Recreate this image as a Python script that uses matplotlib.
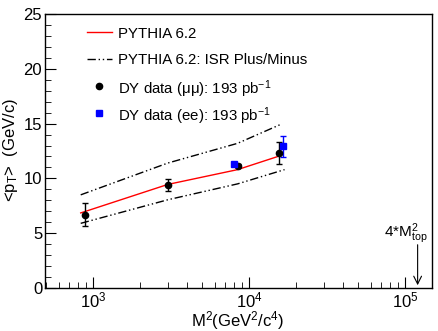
import matplotlib
matplotlib.use("Agg")
import matplotlib.pyplot as plt
from matplotlib.ticker import LogLocator, MultipleLocator, NullFormatter

plt.rcParams['font.family'] = ['Liberation Sans', 'DejaVu Sans']
plt.rcParams['mathtext.fontset'] = 'custom'
plt.rcParams['mathtext.rm'] = 'Liberation Sans'
plt.rcParams['mathtext.it'] = 'Liberation Sans'

# PYTHIA 6.2 curves
pyth_m2 = [830, 3000, 8400, 16000]
pyth_pt = [6.85, 9.45, 10.8, 12.1]
isr_plus_m2 = [830, 3000, 8400, 16000]
isr_plus_pt = [8.5, 11.4, 13.2, 14.95]
isr_minus_m2 = [830, 3000, 8400, 16800]
isr_minus_pt = [5.9, 8.05, 9.5, 10.8]

# DY data
mumu_m2 = [885, 3000, 8400, 15400]
mumu_pt = [6.7, 9.4, 11.15, 12.35]
mumu_err = [1.05, 0.58, 0.15, 1.0]
ee_m2 = [8000, 16400]
ee_pt = [11.27, 12.92]
ee_err = [0.12, 0.97]

mtop = 173.0

legend_labels = ["PYTHIA 6.2", "PYTHIA 6.2: ISR Plus/Minus",
                 r"DY data ($\mu\mu$): 193 pb$^{-1}$", "DY data (ee): 193 pb$^{-1}$"]

fig = plt.figure(figsize=(4.39, 3.31), dpi=100)
ax = fig.add_axes([45/439, 1 - 288/331, 387/439, 274/331])

dash = [6, 2, 1, 2, 1, 2]
ax.plot(pyth_m2, pyth_pt, color="red", lw=1.0)
ax.plot(isr_plus_m2, isr_plus_pt, color="black", lw=1.0, dashes=dash)
ax.plot(isr_minus_m2, isr_minus_pt, color="black", lw=1.0, dashes=dash)
ax.errorbar(mumu_m2, mumu_pt, yerr=mumu_err, fmt="o", color="black", ms=4.5,
            capsize=2, elinewidth=1)
ax.errorbar(ee_m2, ee_pt, yerr=ee_err, fmt="s", color="#0000ff", ms=4.5,
            capsize=2, elinewidth=1)

ax.set_xscale("log")
ax.set_xlim(490, 148000)
ax.set_ylim(0, 25)

ax.yaxis.set_major_locator(MultipleLocator(5))
ax.yaxis.set_minor_locator(MultipleLocator(1))
ax.xaxis.set_major_locator(LogLocator(base=10))
ax.xaxis.set_minor_locator(LogLocator(base=10, subs=range(2, 10)))
ax.xaxis.set_minor_formatter(NullFormatter())
ax.tick_params(which="both", direction="in", top=False, right=False, labelsize=12)
ax.tick_params(which="major", length=8)
ax.tick_params(which="minor", length=4)
ax.tick_params(axis="y", pad=2)
ax.tick_params(axis="x", pad=2)
for s in ax.spines.values():
    s.set_linewidth(1.0)

fig.text(238/439, 1 - 321/331, "M$^{2}$(GeV$^{2}$/c$^{4}$)", fontsize=12,
         ha="center", va="center")
fig.text(11/439, 1 - 150/331, r"<p$_{T}$>  (GeV/c)", fontsize=12,
         ha="center", va="center", rotation=90)

x_arrow = 4 * mtop ** 2
ax.annotate("", xy=(x_arrow, 0), xytext=(x_arrow, 4.2),
            arrowprops=dict(arrowstyle="->", color="black", lw=0.8, mutation_scale=14))
ax.text(0.99, 4.65, "4*M$_{top}^{2}$", ha="right", va="baseline", fontsize=11,
        transform=ax.get_yaxis_transform())

# legend drawn by hand (ROOT style, evenly spaced rows, no frame)
tr = ax.transAxes
row_y = [(288 - y) / 274 for y in (32, 59, 86, 113)]
x0, x1, xm, xt = (87 - 45) / 387, (112 - 45) / 387, (99 - 45) / 387, (118 - 45) / 387
ax.plot([x0, x1], [row_y[0]] * 2, color="red", lw=1.0, transform=tr)
ax.plot([x0, x1], [row_y[1]] * 2, color="black", lw=1.0, dashes=dash, transform=tr)
ax.plot([xm], [row_y[2]], "o", color="black", ms=4.5, transform=tr)
ax.plot([xm], [row_y[3]], "s", color="#0000ff", ms=4.5, transform=tr)
for yy, lab in zip(row_y, legend_labels):
    ax.text(xt, yy, lab, transform=tr, fontsize=10.8, ha="left", va="center_baseline")

fig.savefig("out.png", dpi=100)
